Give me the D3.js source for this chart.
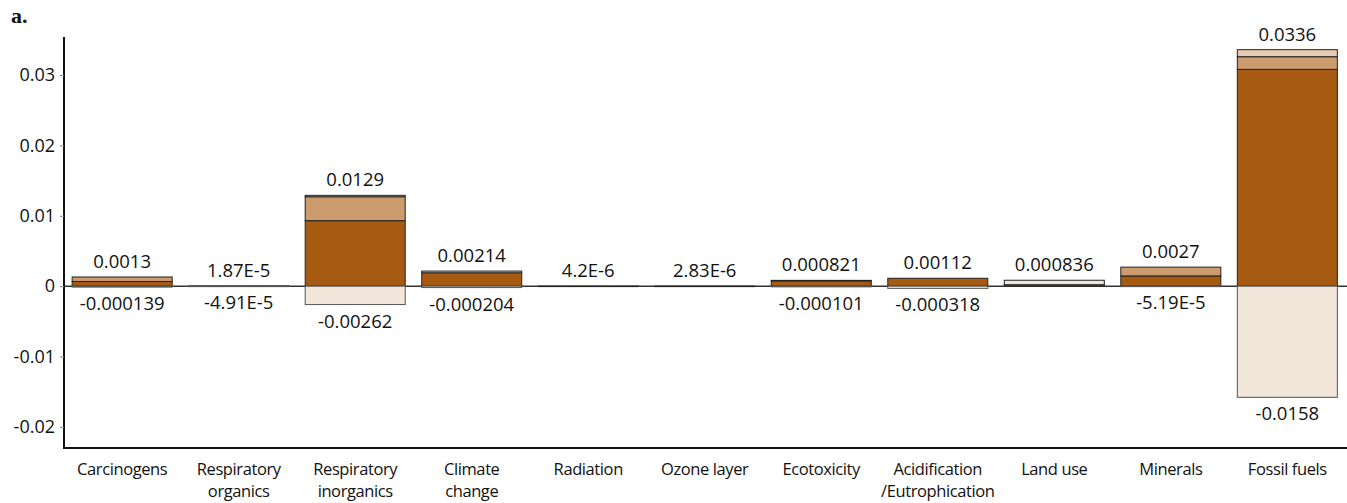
<!DOCTYPE html>
<html>
<head>
<meta charset="utf-8">
<script src="https://cdn.jsdelivr.net/npm/d3@7"></script>
<style>
  body { margin: 0; background: #fff; }
  text { font-family: "Open Sans", sans-serif; fill: #111; }
</style>
</head>
<body>
<div id="chart"></div>
<script>
// categories and labels (second line after "|")
const categories = ["Carcinogens", "Respiratory|organics", "Respiratory|inorganics", "Climate|change",
    "Radiation", "Ozone layer", "Ecotoxicity", "Acidification|/Eutrophication", "Land use", "Minerals", "Fossil fuels"];

// positive stacked segments, bottom to top
const darkPart   = [0.00066, 0.0000187, 0.0093, 0.0019, 0.0000042, 0.00000283, 0.00075, 0.00112, 0.0002, 0.00145, 0.0308];
const midPart    = [0.00064, 0, 0.0034, 0, 0, 0, 0, 0, 0, 0.00125, 0.0018];
const lightPart  = [0, 0, 0.0002, 0.00024, 0, 0, 0.00007, 0, 0, 0, 0.001];
const palePart   = [0, 0, 0, 0, 0, 0, 0, 0, 0.000636, 0, 0];
// negative part
const negPart    = [-0.000139, -0.0000491, -0.00262, -0.000204, 0, 0, -0.000101, -0.000318, 0, -0.0000519, -0.0158];

const topLabels = ["0.0013", "1.87E-5", "0.0129", "0.00214", "4.2E-6", "2.83E-6", "0.000821", "0.00112", "0.000836", "0.0027", "0.0336"];
const negLabels = ["-0.000139", "-4.91E-5", "-0.00262", "-0.000204", "", "", "-0.000101", "-0.000318", "", "-5.19E-5", "-0.0158"];

const yTicks = [-0.02, -0.01, 0, 0.01, 0.02, 0.03];

const width = 1347;
const height = 503;

const svg = d3.select("#chart")
    .append("svg")
    .attr("width", width)
    .attr("height", height);

const xScale = d3.scaleBand()
    .domain(categories)
    .range([64, 1345.5])
    .paddingInner(0.1416)
    .paddingOuter(0.07);

const yScale = d3.scaleLinear()
    .domain([-0.0230, 0.0354])
    .range([448, 37]);

const segColors = ["#A65A12", "#CC9C6F", "#E6CBB2", "#F2E5DA"];
const segs = [darkPart, midPart, lightPart, palePart];

// build stacked rects
const rects = [];
categories.forEach((c, i) => {
    let base = 0;
    segs.forEach((s, k) => {
        if (s[i] > 0) {
            rects.push({ c, y0: base, y1: base + s[i], color: segColors[k], stroke: "#222" });
            base += s[i];
        }
    });
    if (negPart[i] < 0) {
        rects.push({ c, y0: negPart[i], y1: 0, color: "#F2E5DA", stroke: "#555" });
    }
});

// zero line
svg.append("line")
    .attr("x1", 64).attr("x2", width)
    .attr("y1", yScale(0)).attr("y2", yScale(0))
    .attr("stroke", "#333")
    .attr("stroke-width", 1.5);

svg.selectAll("rect.seg")
    .data(rects)
    .enter()
    .append("rect")
    .attr("class", "seg")
    .attr("x", d => xScale(d.c))
    .attr("width", xScale.bandwidth())
    .attr("y", d => yScale(d.y1))
    .attr("height", d => Math.max(0.5, yScale(d.y0) - yScale(d.y1)))
    .attr("fill", d => d.color)
    .attr("stroke", d => d.stroke)
    .attr("stroke-width", 1);

// value labels
const totals = categories.map((c, i) => darkPart[i] + midPart[i] + lightPart[i] + palePart[i]);

svg.selectAll("text.top")
    .data(categories)
    .enter()
    .append("text")
    .attr("class", "top")
    .attr("x", d => xScale(d) + xScale.bandwidth() / 2)
    .attr("y", (d, i) => yScale(totals[i]) - 9)
    .attr("text-anchor", "middle")
    .style("font-size", "18.5px")
    .text((d, i) => topLabels[i]);

svg.selectAll("text.neg")
    .data(categories)
    .enter()
    .append("text")
    .attr("class", "neg")
    .attr("x", d => xScale(d) + xScale.bandwidth() / 2)
    .attr("y", (d, i) => yScale(negPart[i]) + 23)
    .attr("text-anchor", "middle")
    .style("font-size", "18.5px")
    .text((d, i) => negLabels[i]);

// y axis
const yAxis = d3.axisLeft(yScale)
    .tickValues(yTicks)
    .tickSize(4)
    .tickPadding(5)
    .tickFormat(d => String(+d.toFixed(2)));

const yG = svg.append("g")
    .attr("transform", "translate(64,0)")
    .call(yAxis);
yG.select(".domain").attr("stroke", "#111").attr("stroke-width", 2).attr("d", "M0,37V448");
yG.selectAll(".tick line").attr("stroke", "#888");
yG.selectAll(".tick text")
    .style("font-family", "'Open Sans', sans-serif")
    .style("font-size", "18px")
    .attr("fill", "#111");

// x axis line
svg.append("line")
    .attr("x1", 63).attr("x2", width)
    .attr("y1", 448).attr("y2", 448)
    .attr("stroke", "#111")
    .attr("stroke-width", 2);

// category labels
const catG = svg.selectAll("text.cat")
    .data(categories)
    .enter()
    .append("text")
    .attr("class", "cat")
    .attr("text-anchor", "middle")
    .style("font-size", "16.5px")
    .style("letter-spacing", "-0.4px")
    .attr("transform", d => `translate(${xScale(d) + xScale.bandwidth() / 2},475)`);

catG.selectAll("tspan")
    .data(d => d.split("|"))
    .enter()
    .append("tspan")
    .attr("x", 0)
    .attr("y", (d, i) => i * 22)
    .text(d => d);

// panel letter
svg.append("text")
    .attr("x", 11)
    .attr("y", 23)
    .style("font-family", "'Liberation Serif', serif")
    .style("font-weight", "bold")
    .style("font-size", "22px")
    .text("a.");
</script>
</body>
</html>
